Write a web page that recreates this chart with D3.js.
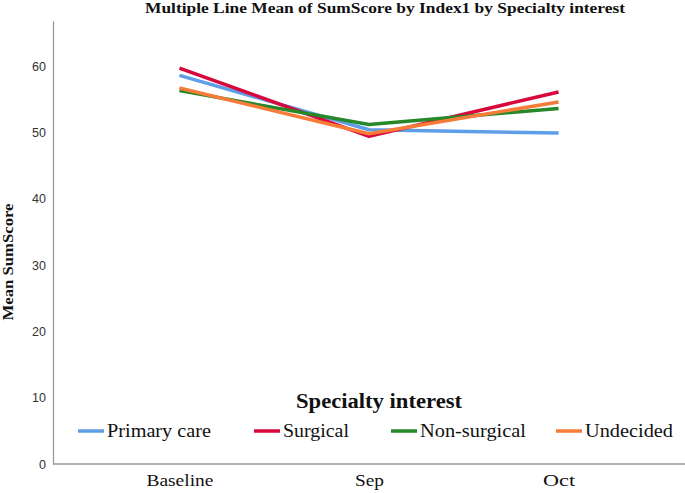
<!DOCTYPE html>
<html>
<head>
<meta charset="utf-8">
<script src="https://cdn.jsdelivr.net/npm/d3@7"></script>
<style>
  html, body { margin: 0; padding: 0; background: #fff; }
  svg { display: block; }
  .serif { font-family: 'Liberation Serif', 'Times New Roman', 'DejaVu Serif', serif; }
</style>
</head>
<body>
<svg id="chart" width="685" height="493"></svg>
<script>
const categories = ["Baseline", "Sep", "Oct"];
const seriesNames = ["Primary care", "Surgical", "Non-surgical", "Undecided"];
const primaryCare = [58.6, 50.4, 49.9];
const surgical = [59.7, 49.4, 56.1];
const nonSurgical = [56.3, 51.2, 53.6];
const undecided = [56.7, 49.8, 54.6];
const yTicks = [0, 10, 20, 30, 40, 50, 60];
const colors = ["#5f9ee8", "#d8083c", "#27882a", "#f77b39"];

const seriesValues = [primaryCare, surgical, nonSurgical, undecided];
const svg = d3.select("#chart");

const x = d3.scalePoint().domain(categories).range([53, 685]).padding(0.667);
const y = d3.scaleLinear().domain([0, 66.8]).range([464, 21]);

// title
svg.append("text")
  .attr("class", "serif")
  .attr("x", 385).attr("y", 13)
  .attr("text-anchor", "middle")
  .attr("font-weight", "bold").attr("font-size", 15)
  .attr("textLength", 480).attr("lengthAdjust", "spacingAndGlyphs")
  .attr("fill", "#111")
  .text("Multiple Line Mean of SumScore by Index1 by Specialty interest");

// y axis
const yAxis = d3.axisLeft(y).tickValues(yTicks).tickSize(0).tickPadding(7);
const gy = svg.append("g").attr("transform", "translate(53,0)").call(yAxis);
gy.select(".domain").attr("stroke", "#999").attr("stroke-width", 1.3);
gy.selectAll("text")
  .attr("font-family", "Liberation Sans, Arial, sans-serif")
  .attr("font-size", 12.5).attr("fill", "#333");

// x axis
const xLabelWidths = { "Baseline": 67, "Sep": 29, "Oct": 32 };
const xAxis = d3.axisBottom(x).tickSize(0).tickPadding(10);
const gx = svg.append("g").attr("transform", "translate(0,464)").call(xAxis);
gx.attr("font-family", null);
gx.select(".domain").attr("stroke", "#999").attr("stroke-width", 1.3)
  .attr("d", "M53,0H685");
gx.selectAll("text")
  .attr("class", "serif")
  .attr("font-size", 17).attr("fill", "#111")
  .attr("textLength", d => xLabelWidths[d]).attr("lengthAdjust", "spacingAndGlyphs");

// y axis title
svg.append("text")
  .attr("class", "serif")
  .attr("transform", "translate(13,262) rotate(-90)")
  .attr("text-anchor", "middle")
  .attr("font-weight", "bold").attr("font-size", 15)
  .attr("textLength", 117).attr("lengthAdjust", "spacingAndGlyphs")
  .attr("fill", "#111")
  .text("Mean SumScore");

// lines
const line = d3.line().x((d, i) => x(categories[i])).y(d => y(d));
seriesValues.forEach((vals, k) => {
  svg.append("path")
    .datum(vals)
    .attr("d", line)
    .attr("fill", "none")
    .attr("stroke", colors[k])
    .attr("stroke-width", 3.5)
    .attr("stroke-linejoin", "round");
});

// legend
svg.append("text")
  .attr("class", "serif")
  .attr("x", 379).attr("y", 408)
  .attr("text-anchor", "middle")
  .attr("font-weight", "bold").attr("font-size", 20)
  .attr("textLength", 166).attr("lengthAdjust", "spacingAndGlyphs")
  .attr("fill", "#111")
  .text("Specialty interest");

const legendX = [78, 254, 391, 556];
const legendW = [104, 66, 106, 88];
seriesNames.forEach((name, k) => {
  const g = svg.append("g").attr("transform", `translate(${legendX[k]},431)`);
  g.append("line").attr("x1", 0).attr("x2", 26).attr("y1", 0).attr("y2", 0)
    .attr("stroke", colors[k]).attr("stroke-width", 3.5);
  g.append("text").attr("class", "serif").attr("x", 29).attr("y", 6)
    .attr("font-size", 18).attr("fill", "#111")
    .attr("textLength", legendW[k]).attr("lengthAdjust", "spacingAndGlyphs")
    .text(name);
});
</script>
</body>
</html>
